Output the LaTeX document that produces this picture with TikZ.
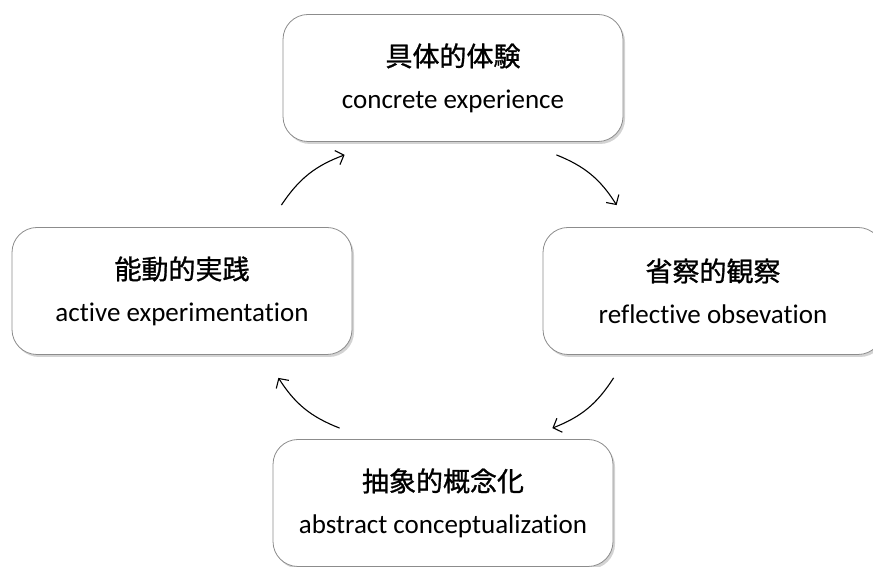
\documentclass[tikz,border=0pt]{standalone}
\usepackage{fontspec}
\setmainfont{Carlito}[Ligatures=NoCommon]
\newfontfamily\cjk{Noto Sans CJK JP}[FakeBold=1]
\usepackage{tikz, xcolor}
\usetikzlibrary{shadows,arrows.meta}

\begin{document}
\begin{tikzpicture}[x=1pt, y=1pt]
\tikzstyle{stage}=
[
    %Formats the four boxes of the cycle
    draw=black!45,
    line width=0.8pt,
    fill=white,
    rounded corners=25pt,
    minimum width=340pt,
    minimum height=127pt,
    align=center,
    font=\fontsize{27}{42}\selectfont,
    drop shadow={shadow xshift=2pt, shadow yshift=-2.5pt, opacity=0.35}
    ]
\tikzstyle{cycle}=
[
    %Formats the curved arrows between boxes
    line width=1.1pt,
    -{Straight Barb[length=7pt, width=15pt]},
    bend left=18
    ]
%Fixes the page size
\useasboundingbox (0,0) rectangle (873,567);
%Places the boxes
\node[stage] (concrete) at (453,489) {{\cjk 具体的体験}\\concrete experience};
\node[stage] (reflective) at (713,276) {{\cjk 省察的観察}\\reflective obsevation};
\node[stage] (abstract) at (443,64) {{\cjk 抽象的概念化}\\abstract conceptualization};
\node[stage] (active) at (182,276) {{\cjk 能動的実践}\\active experimentation};
%Draws the arrows
\draw[cycle] ([shift={(-71,22)}]active.north east) to ([shift={(62,-13)}]concrete.south west);
\draw[cycle] ([shift={(-67,-13)}]concrete.south east) to ([shift={(74,22)}]reflective.north west);
\draw[cycle] ([shift={(71,-23)}]reflective.south west) to ([shift={(-61,11)}]abstract.north east);
\draw[cycle] ([shift={(67,11)}]abstract.north west) to ([shift={(-74,-23)}]active.south east);
\end{tikzpicture}
\end{document}
